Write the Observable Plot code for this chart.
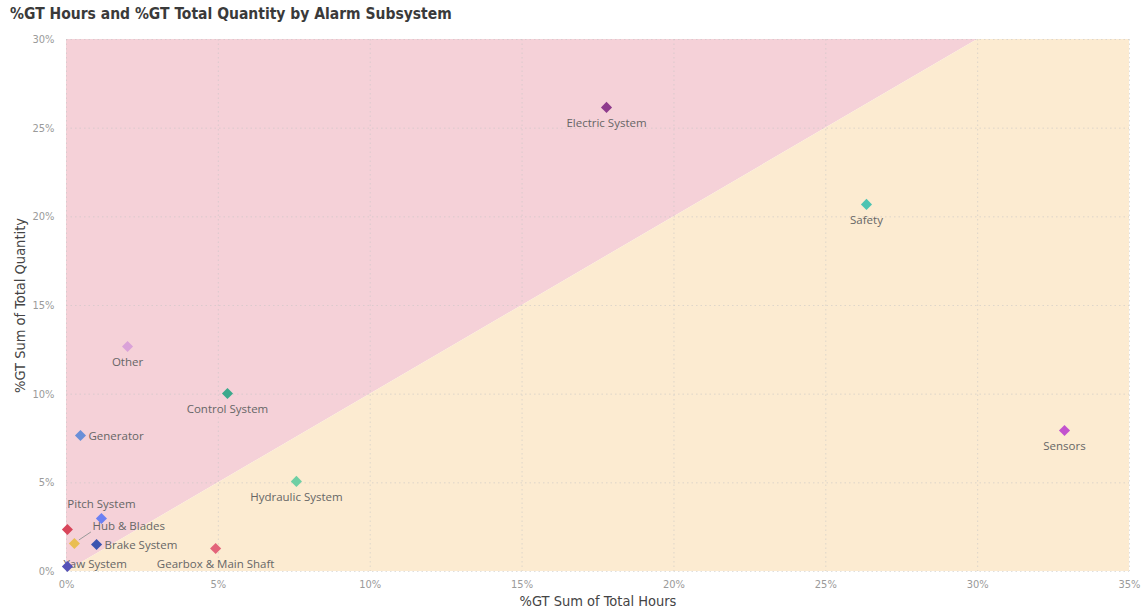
<!DOCTYPE html>
<html>
<head>
<meta charset="utf-8">
<script src="https://cdn.jsdelivr.net/npm/d3@7"></script>
<script src="https://cdn.jsdelivr.net/npm/@observablehq/plot@0.6"></script>
<style>
  html, body { margin: 0; padding: 0; background: #fff; }
  #title {
    height: 30px; box-sizing: border-box; padding: 5px 0 0 10px;
    font: bold 15.5px "DejaVu Sans Condensed", Roboto, sans-serif; color: #3a3a3a;
  }
  #chart svg { display: block; }
</style>
</head>
<body>
<div id="title">%GT Hours and %GT Total Quantity by Alarm Subsystem</div>
<div id="chart"></div>
<script>
// Alarm subsystems: share of total hours (x, %) and share of total quantity (y, %)
const subsystems = ["Electric System", "Safety", "Sensors", "Other", "Control System", "Generator",
  "Hydraulic System", "Pitch System", "Converter", "Hub & Blades", "Brake System",
  "Gearbox & Main Shaft", "Yaw System"];
const pctHours    = [17.78, 26.34, 32.86, 2.01, 5.30, 0.46, 7.57, 1.15, 0.03, 0.26, 0.99, 4.91, 0.03];
const pctQuantity = [26.17, 20.70, 7.95, 12.69, 10.04, 7.67, 5.08, 2.99, 2.37, 1.58, 1.52, 1.30, 0.28];
const colors = ["#8E3B8C", "#4DC4B2", "#C352CE", "#DAA2D8", "#3CA98C", "#6A8FD8",
  "#6FCFA4", "#6B80F2", "#D8455A", "#E9BE52", "#3B55B0", "#E3647A", "#5552B8"];

// Tick values of both axes (percent)
const xTicks = [0, 5, 10, 15, 20, 25, 30, 35];
const yTicks = [0, 5, 10, 15, 20, 25, 30];

// Parity line y = x, clipped to the chart's top edge, splits the two zones
const parityX = [0, 30, 35];
const parityY = [0, 30, 30];

// How each data label sits relative to its marker
const labelPlacement = {
  "Generator": "right", "Brake System": "right", "Pitch System": "above",
  "Yaw System": "yaw", "Hub & Blades": "leader", "Converter": "none"
};

const rows = subsystems.map((name, i) => ({
  name, x: pctHours[i], y: pctQuantity[i], color: colors[i],
  place: labelPlacement[name] || "below"
}));
const zone = parityX.map((x, i) => ({x, y: parityY[i]}));

const pct = d => d + "%";
const labelFont = "Open Sans, sans-serif";
const labelFill = "#666";
const labelSize = 11.5;
const byPlace = p => rows.filter(d => d.place === p);
const label = (p, opts) => Plot.text(byPlace(p), {
  x: "x", y: "y", text: "name", fill: labelFill, fontFamily: labelFont, fontSize: labelSize, ...opts
});

const plot = Plot.plot({
  width: 1146,
  height: 582,
  marginTop: 9,
  marginLeft: 66,
  marginRight: 17,
  marginBottom: 41,
  style: { fontFamily: "DejaVu Sans Condensed, Roboto, sans-serif", fontSize: "11px", background: "transparent" },
  x: { domain: [0, 35] },
  y: { domain: [0, 30] },
  marks: [
    // Zones above and below the parity line
    Plot.areaY(zone, { x: "x", y1: "y", y2: 30, fill: "#F5D1D8" }),
    Plot.areaY(zone, { x: "x", y1: 0, y2: "y", fill: "#FCEBD1" }),
    // Dotted gridlines
    Plot.gridX(xTicks, { stroke: "#c4c4c4", strokeOpacity: 0.55, strokeDasharray: "1.5,3" }),
    Plot.gridY(yTicks, { stroke: "#c4c4c4", strokeOpacity: 0.55, strokeDasharray: "1.5,3" }),
    Plot.axisX(xTicks, {
      tickFormat: pct, tickSize: 0, tickPadding: 9, fill: "#9a9a9a",
      label: "%GT Sum of Total Hours", labelAnchor: "center", labelArrow: "none", labelOffset: 34
    }),
    Plot.axisY(yTicks, {
      tickFormat: pct, tickSize: 0, tickPadding: 12, fill: "#9a9a9a",
      label: "%GT Sum of Total Quantity", labelAnchor: "center", labelArrow: "none", labelOffset: 52
    }),
    // Data labels
    label("below", { dy: 16 }),
    label("above", { dy: -14 }),
    label("right", { dx: 8, dy: 1, textAnchor: "start" }),
    label("yaw", { dx: -4, dy: -2, textAnchor: "start" }),
    label("leader", { dx: 18, dy: -17, textAnchor: "start" }),
    // Markers
    Plot.dot(rows, { x: "x", y: "y", symbol: "diamond2", r: 5, fill: "color", stroke: "none" })
  ]
});
document.getElementById("chart").append(plot);

// Leader line from the marker to its offset label
const sx = plot.scale("x"), sy = plot.scale("y");
const svg = d3.select(plot);
for (const d of byPlace("leader")) {
  const px = sx.apply(d.x), py = sy.apply(d.y);
  svg.append("line")
    .attr("x1", px + 5).attr("y1", py - 3)
    .attr("x2", px + 17).attr("y2", py - 11)
    .attr("stroke", "#999").attr("stroke-width", 1);
}
// Axis titles in the darker heading colour
svg.selectAll("[aria-label='x-axis label'] text, [aria-label='y-axis label'] text")
  .attr("fill", "#444").style("font-size", "14.5px");
</script>
</body>
</html>
